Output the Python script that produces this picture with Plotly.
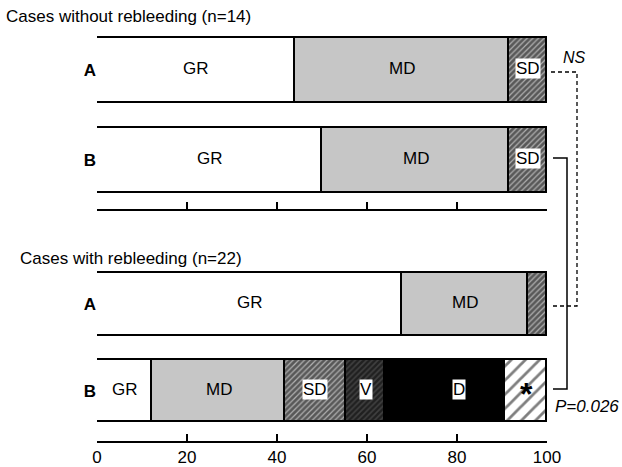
import plotly.graph_objects as go

# ---- data (percent of cases) ----
segments = ["GR", "MD", "SD", "V", "D", "*"]
rows = ["A", "B"]
without_A = [43.9, 47.6, 8.5, 0, 0, 0]
without_B = [50.1, 41.4, 8.5, 0, 0, 0]
with_A = [67.8, 27.9, 4.3, 0, 0, 0]
with_B = [12.3, 29.4, 13.7, 8.7, 26.6, 9.3]
x_ticks = [0, 20, 40, 60, 80, 100]
title_without = "Cases without rebleeding (n=14)"
title_with = "Cases with rebleeding (n=22)"
ns_label = "NS"
p_label = "P=0.026"

W, H = 622, 467
FONT = "Liberation Sans"

styles = {
    "GR": dict(color="white"),
    "MD": dict(color="#c6c6c6"),
    "SD": dict(color="white", pattern=dict(shape="/", fgcolor="black", bgcolor="#b0b0b0", size=4, solidity=0.7)),
    "V": dict(color="#333", pattern=dict(shape="/", fgcolor="black", bgcolor="#404040", size=4, solidity=0.6)),
    "D": dict(color="black"),
    "*": dict(color="white", pattern=dict(shape="/", fgcolor="black", bgcolor="white", size=10, solidity=0.28)),
}
label_style = {
    "GR": dict(bg=None, size=17, text="GR", dx=0, dy=2),
    "MD": dict(bg=None, size=17, text="MD", dx=0, dy=2),
    "SD": dict(bg="white", size=17, text="SD", dx=0, dy=2),
    "V": dict(bg="white", size=17, text="V", dx=0, dy=2),
    "D": dict(bg="white", size=17, text="D", dx=14, dy=2),
    "*": dict(bg=None, size=32, text="<b>*</b>", dx=0, dy=-3),
}

fig = go.Figure()
panels = [("x", "y", without_A, without_B), ("x2", "y2", with_A, with_B)]
annotations = []
for xa, ya, va, vb in panels:
    for i, seg in enumerate(segments):
        xs = [va[i] if va[i] > 0 else None, vb[i] if vb[i] > 0 else None]
        if all(v is None for v in xs):
            continue
        st = styles[seg]
        marker = dict(color=st["color"], line=dict(color="black", width=1.8))
        if "pattern" in st:
            marker["pattern"] = st["pattern"]
        fig.add_trace(go.Bar(x=xs, y=rows, orientation="h", marker=marker, width=0.727,
                             xaxis=xa, yaxis=ya, showlegend=False, hoverinfo="skip"))
    for r, vals in zip(rows, [va, vb]):
        cum = 0
        for i, seg in enumerate(segments):
            v = vals[i]
            if v >= 5:
                ls = label_style[seg]
                a = dict(x=cum + v / 2, y=r, xref=xa, yref=ya, text=ls["text"], showarrow=False,
                         font=dict(family=FONT, size=ls["size"], color="black"),
                         borderpad=0, xshift=ls["dx"], yshift=ls["dy"])
                if ls["bg"]:
                    a["bgcolor"] = ls["bg"]
                annotations.append(a)
            cum += v

def px(x):
    return x / W

def py(y):
    return 1 - y / H

annotations += [
    dict(x=px(4), y=py(16), xref="paper", yref="paper", text=title_without, showarrow=False,
         xanchor="left", yanchor="middle", font=dict(family=FONT, size=17, color="black")),
    dict(x=px(18), y=py(258), xref="paper", yref="paper", text=title_with, showarrow=False,
         xanchor="left", yanchor="middle", font=dict(family=FONT, size=17, color="black")),
    dict(x=px(561), y=py(57), xref="paper", yref="paper", text="<i>" + ns_label + "</i>", showarrow=False,
         xanchor="left", yanchor="middle", font=dict(family=FONT, size=16, color="black")),
    dict(x=px(553), y=py(406), xref="paper", yref="paper", text="<i>" + p_label + "</i>", showarrow=False,
         xanchor="left", yanchor="middle", font=dict(family=FONT, size=17, color="black")),
]

shapes = [
    dict(type="path", xref="paper", yref="paper",
         path=f"M {px(551)} {py(72)} L {px(577)} {py(72)} L {px(577)} {py(306)} L {px(551)} {py(306)}",
         line=dict(color="black", width=1.3, dash="4px,3px")),
    dict(type="path", xref="paper", yref="paper",
         path=f"M {px(553)} {py(158)} L {px(567)} {py(158)} L {px(567)} {py(389)} L {px(553)} {py(389)}",
         line=dict(color="black", width=1.5)),
]

xdom = [px(97), px(547)]
xaxis_common = dict(range=[0, 100], tickvals=x_ticks, ticks="inside", ticklen=7, tickwidth=1.5,
                    tickcolor="black", showline=True, linecolor="black", linewidth=1.5,
                    showgrid=False, zeroline=False, domain=xdom, fixedrange=True, automargin=False)
yaxis_common = dict(type="category", categoryorder="array", categoryarray=["B", "A"],
                    tickvals=rows, ticktext=["<b>" + r + "</b>" for r in rows],
                    showgrid=False, zeroline=False, showline=False, ticks="",
                    tickfont=dict(family=FONT, size=17, color="black"), automargin=False)

fig.update_layout(
    width=W, height=H, barmode="stack", bargap=0,
    paper_bgcolor="white", plot_bgcolor="white",
    margin=dict(l=0, r=0, t=0, b=0, pad=0),
    font=dict(family=FONT, color="black"),
    xaxis=dict(**xaxis_common, anchor="y", showticklabels=False),
    yaxis=dict(**yaxis_common, anchor="x", domain=[py(209), py(30)], range=[-0.547, 1.453]),
    xaxis2=dict(**xaxis_common, anchor="y2", showticklabels=True,
                tickfont=dict(family=FONT, size=17, color="black")),
    yaxis2=dict(**yaxis_common, anchor="x2", domain=[py(441), py(265)], range=[-0.578, 1.457]),
    annotations=annotations,
    shapes=shapes,
)

fig.write_html("out.html", config={"displayModeBar": False},
               post_script="document.body.style.margin='0';document.body.style.overflow='hidden';")
